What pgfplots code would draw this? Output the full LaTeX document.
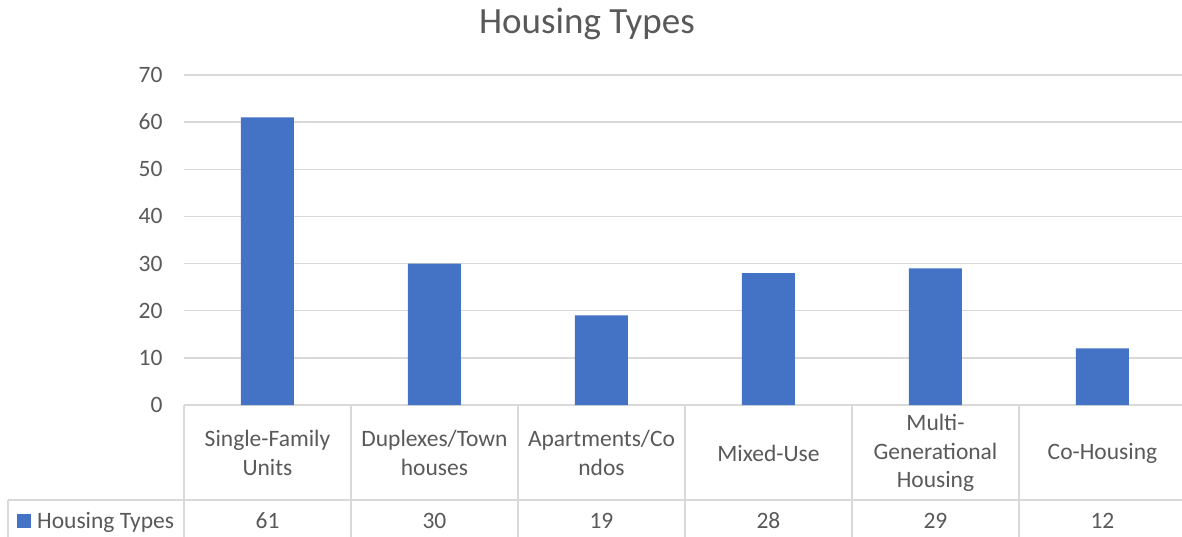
\documentclass[border=0pt]{standalone}
\usepackage{fontspec}
\setmainfont{Carlito}
\usepackage{pgfplots}
\usepackage{pgfplotstable}
\pgfplotsset{compat=1.18}
\definecolor{barBlue}{HTML}{4472C4}
\definecolor{txtGrey}{HTML}{595959}
\definecolor{gridGrey}{HTML}{D9D9D9}
\newcommand\lblfont{\fontsize{23.5}{28.5}\selectfont}

\pgfplotstableread{
idx value
0 61
1 30
2 19
3 28
4 29
5 12
}\housing

\begin{document}
\begin{tikzpicture}[x=1pt,y=1pt]
\useasboundingbox (0,0) rectangle (1182,-537);
\begin{axis}[
  at={(184pt,-405pt)}, anchor=south west,
  scale only axis, width=1002pt, height=330pt,
  xmin=-0.5, xmax=5.5, ymin=0, ymax=70, ytick={0,10,...,70},
  xtick={0,...,5},
  xticklabels={{Single-Family\\Units},{Duplexes/Town\\houses},{Apartments/Co\\ndos},
    {Mixed-Use},{Multi-\\Generational\\Housing},{Co-Housing}},
  axis line style={draw=none}, major tick length=0pt,
  ymajorgrids, grid style={gridGrey, line width=1.5pt},
  tick label style={font=\lblfont, text=txtGrey},
  /pgf/number format/assume math mode=true,
  yticklabel style={xshift=-18pt},
  xticklabel style={align=center, anchor=center, yshift=-48pt},
  clip=false,
  title={Housing Types},
  title style={at={(0.4022,1.109)}, anchor=base, font=\fontsize{37}{42}\selectfont, text=txtGrey},
  legend style={at={(-0.1667,-0.3515)}, anchor=west, draw=none, fill=none,
    font=\lblfont, text=txtGrey, inner sep=0pt},
]
\addplot[ybar, bar width=53pt, fill=barBlue, draw=none,
  legend image code/.code={\fill[barBlue] (0pt,-7pt) rectangle (14pt,7pt); \path (18pt,0pt);}]
  table[x=idx, y=value] {\housing};
\addlegendentry{Housing Types}
\addplot[draw=none, mark=none, forget plot, nodes near coords, point meta=explicit,
  every node near coord/.append style={anchor=base, font=\lblfont, text=txtGrey}]
  table[x=idx, y expr=-26.1, meta=value] {\housing};
\end{axis}
\begin{scope}[gridGrey, line width=1.5pt]
\draw (8,-500) -- (1190,-500);
\draw (8,-500) -- (8,-545);
\foreach \i in {0,...,6} \draw (184+167*\i,-405) -- (184+167*\i,-545);
\end{scope}
\end{tikzpicture}
\end{document}
